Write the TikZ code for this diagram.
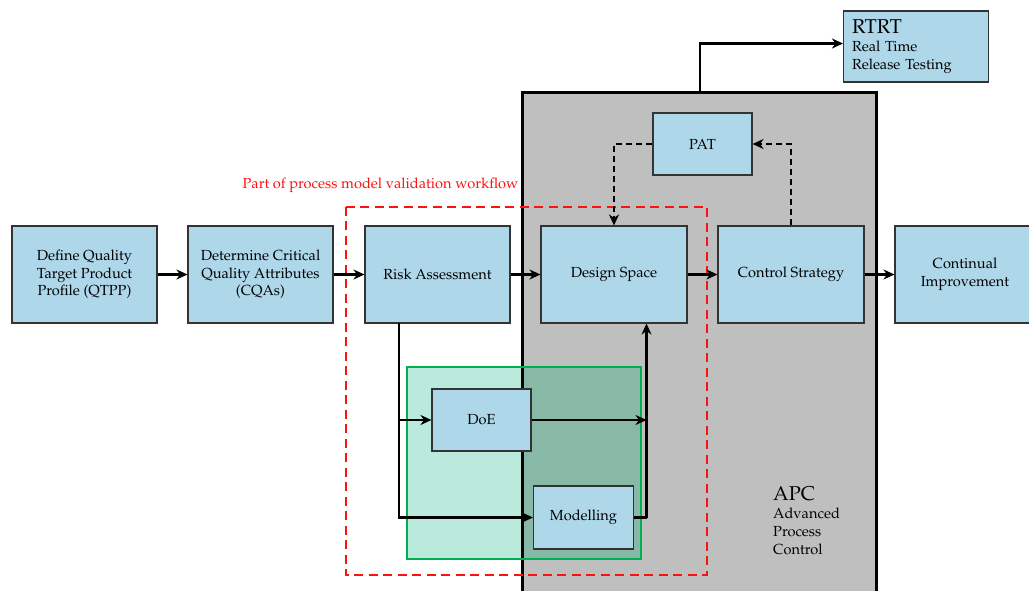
\documentclass[tikz,border=0pt]{standalone}
\usepackage[T1]{fontenc}
\usepackage{mathpazo}
\usetikzlibrary{arrows.meta,calc}
\definecolor{boxblue}{HTML}{AED7EA}
\definecolor{apcgray}{HTML}{BFBFBF}
\definecolor{greenlight}{HTML}{BAEADB}
\definecolor{greendark}{HTML}{88B8A6}
\definecolor{greenline}{HTML}{00B050}
\definecolor{redline}{HTML}{FF1010}
\tikzset{
  blk/.style={draw=black!80, line width=1.1pt, fill=boxblue, rectangle, inner sep=2pt,
    align=center, font=\fontsize{14.6}{17.5}\selectfont},
  arr/.style={draw=black, line width=2.2pt, -{Stealth[length=11pt,width=10pt,inset=3.5pt]}},
  plain/.style={draw=black, line width=2.2pt},
  darr/.style={draw=black, line width=2.2pt, dash pattern=on 6pt off 4pt,
    -{Stealth[length=11pt,width=10pt,inset=3.5pt]}},
}
\begin{document}
\begin{tikzpicture}[x=1pt,y=-1pt]
\useasboundingbox (0,0) rectangle (1029,590);
\clip (0,0) rectangle (1029,590);
% APC region
\fill[apcgray] (522.7,92.7) rectangle (876.7,600);
% green region
\fill[greenlight] (406.7,366.7) rectangle (641,559.3);
\fill[greendark] (522.7,366.7) rectangle (641,559.3);
\draw[black, line width=2.6pt] (522.7,600) -- (522.7,92.7) -- (876.7,92.7) -- (876.7,600);
\draw[greenline, line width=2.2pt] (406.7,366.7) rectangle (641,559.3);
% nodes
\node[blk, minimum width=145pt, minimum height=97pt] (QTPP) at (84.5,274.5) {Define Quality\\Target Product\\Profile (QTPP)};
\node[blk, minimum width=145pt, minimum height=97pt] (CQA) at (260.5,274.5) {Determine Critical\\Quality Attributes\\(CQAs)};
\node[blk, minimum width=145pt, minimum height=97pt] (RA) at (437.5,274.5) {Risk Assessment};
\node[blk, minimum width=146pt, minimum height=97pt] (DS) at (614,274.5) {Design Space};
\node[blk, minimum width=146pt, minimum height=97pt] (CS) at (791,274.5) {Control Strategy};
\node[blk, minimum width=140pt, minimum height=97pt] (CI) at (965,274.5) {Continual\\Improvement};
\node[blk, minimum width=145pt, minimum height=68pt, align=left, text width=128pt, inner sep=8.5pt,
  font=\fontsize{14.6}{18}\selectfont] (RTRT) at (916,46.5)
  {{\fontsize{20}{22}\selectfont RTRT}\\Real Time\\Release Testing};
\node[blk, minimum width=99pt, minimum height=62pt] (PAT) at (702.5,144) {PAT};
\node[blk, minimum width=99pt, minimum height=62pt] (DoE) at (481.5,420) {DoE};
\node[blk, minimum width=100pt, minimum height=63pt] (Mod) at (583.5,517.5) {Modelling};
% labels
\node[anchor=north west, align=left, inner sep=0pt, font=\fontsize{14.6}{18}\selectfont] (apclbl) at (773,486.5)
  {{\fontsize{20}{22}\selectfont APC}\\Advanced\\Process\\Control};
\node[text=redline, inner sep=0pt, font=\fontsize{14.6}{17.5}\selectfont] (redlbl) at (380.5,185) {Part of process model validation workflow};
% red dashed region
\draw[redline, line width=2pt, dash pattern=on 9pt off 5.5pt] (345.7,206.7) rectangle (707,575);
% coordinates
\coordinate (ra1) at (399.3,323);
\coordinate (m1) at (646.5,517.5);
\coordinate (apctop) at (700,92.7);
% connectors
\draw[arr] (QTPP) -- (CQA);
\draw[arr] (CQA) -- (RA);
\draw[arr] (RA) -- (DS);
\draw[arr] (DS) -- (CS);
\draw[arr] (CS) -- (CI);
\draw[arr] (ra1) |- (Mod.west);
\draw[arr] (DoE.west -| ra1) -- (DoE.west);
\draw[arr] (DoE.east) -- (DoE.east -| m1);
\draw[plain] (Mod.east) -- (m1);
\draw[arr] (m1) -- (m1 |- DS.south);
\draw[arr] (apctop) |- ($(RTRT.west)+(0,-3)$);
\draw[darr] (PAT.west) -| (DS.north);
\draw[darr] (CS.north) |- (PAT.east);
\end{tikzpicture}
\end{document}
